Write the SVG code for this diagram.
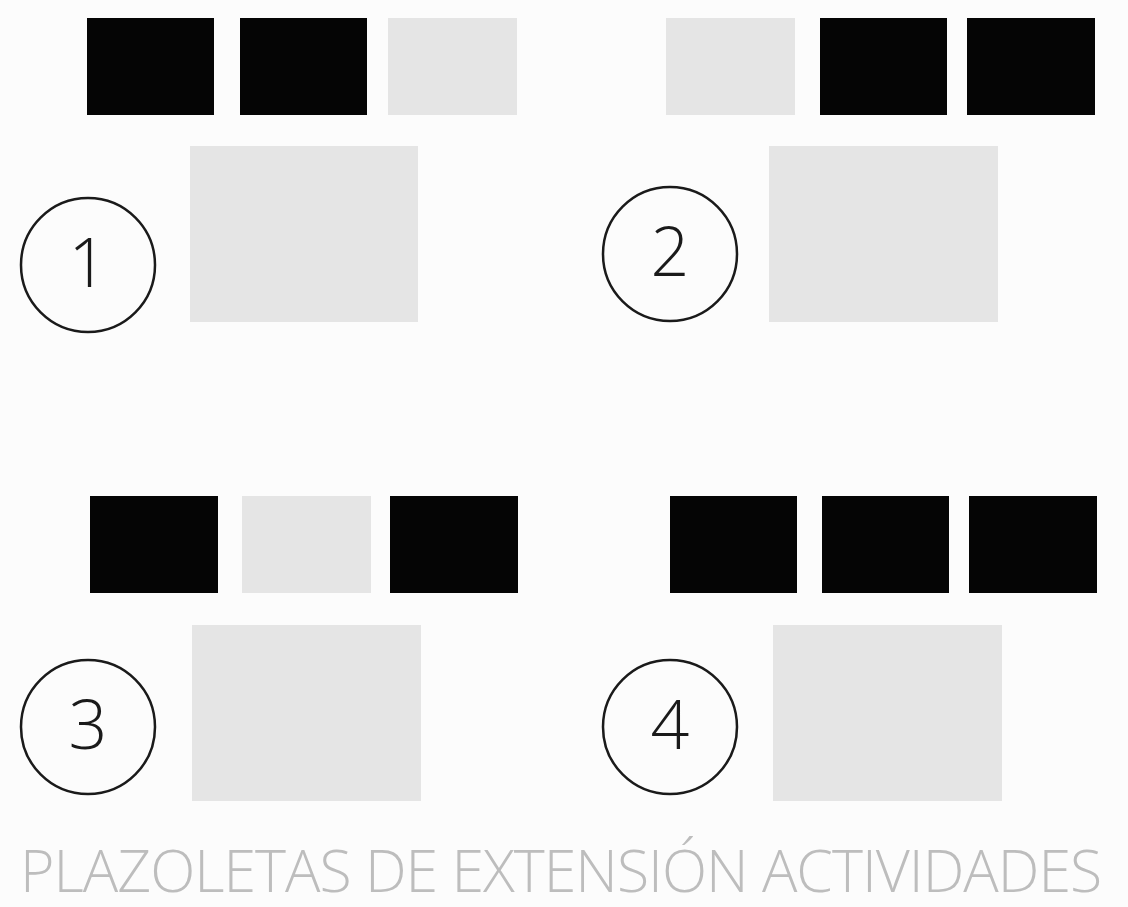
<svg xmlns="http://www.w3.org/2000/svg" width="1128" height="907" viewBox="0 0 1128 907">
<style>
.bk{fill:#050505}
.lt{fill:#e5e5e5}
.cir{fill:none;stroke:#1a1a1a;stroke-width:2.5}
.num{font-family:"Open Sans","Liberation Sans",sans-serif;font-weight:300;font-size:68px;fill:#1a1a1a;text-anchor:middle}
.title{font-family:"Open Sans","Liberation Sans",sans-serif;font-weight:300;font-size:59px;fill:#bdbdbd}
</style>
<rect width="1128" height="907" fill="#fcfcfc"/>
<g id="plaza1">
<rect class="bk" x="87" y="18" width="127" height="97"/>
<rect class="bk" x="240" y="18" width="127" height="97"/>
<rect class="lt" x="388" y="18" width="129" height="97"/>
<rect class="lt" x="190" y="146" width="228" height="176"/>
<circle class="cir" cx="88" cy="265" r="67"/>
<text class="num" x="88" y="287">1</text>
</g>
<g id="plaza2">
<rect class="lt" x="666" y="18" width="129" height="97"/>
<rect class="bk" x="820" y="18" width="127" height="97"/>
<rect class="bk" x="967" y="18" width="128" height="97"/>
<rect class="lt" x="769" y="146" width="229" height="176"/>
<circle class="cir" cx="670" cy="254" r="67"/>
<text class="num" x="670" y="276">2</text>
</g>
<g id="plaza3">
<rect class="bk" x="90" y="496" width="128" height="97"/>
<rect class="lt" x="242" y="496" width="129" height="97"/>
<rect class="bk" x="390" y="496" width="128" height="97"/>
<rect class="lt" x="192" y="625" width="229" height="176"/>
<circle class="cir" cx="88" cy="727" r="67"/>
<text class="num" x="88" y="749">3</text>
</g>
<g id="plaza4">
<rect class="bk" x="670" y="496" width="127" height="97"/>
<rect class="bk" x="822" y="496" width="127" height="97"/>
<rect class="bk" x="969" y="496" width="128" height="97"/>
<rect class="lt" x="773" y="625" width="229" height="176"/>
<circle class="cir" cx="670" cy="727" r="67"/>
<text class="num" x="670" y="749">4</text>
</g>
<g id="connectors"/>
<text class="title" x="20" y="892" letter-spacing="-1">PLAZOLETAS DE EXTENSIÓN ACTIVIDADES</text>
</svg>
